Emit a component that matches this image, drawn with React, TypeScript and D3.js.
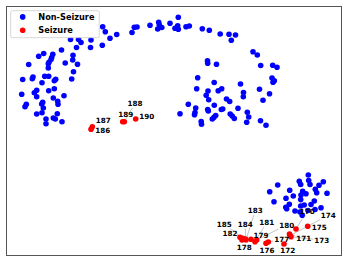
import React from "react";
import * as d3 from "d3";

// Embedding coordinates (arbitrary units)
const nonSeizure: [number, number][] = [
  [102.7,26.7],[105.3,31.7],[116.7,34.5],[110,38.3],[70.5,39.5],[78.5,39.5],[81,42.5],[91,40],
  [90.5,47.5],[102.3,45.2],[76.5,47.5],[61.5,50],[43.7,53.5],[52.8,54.2],[38.7,56.2],[73,55.2],
  [51.7,57.5],[51,59.5],[49,62.3],[48.3,63.7],[65.2,63],[72.7,60],[77.5,64.2],[28.7,64.5],
  [48.3,68],[73.5,71.7],[22.7,79.5],[32.3,78.7],[33,77],[44.7,76.3],[48.7,76.3],[54.3,80.7],
  [55.7,79.3],[71.7,79],[42,82.7],[36.7,90.3],[34.3,92.7],[48.7,90.7],[54.3,88.7],[21.7,94.3],
  [64,95.7],[36.7,96.7],[53.3,98],[57.7,101.3],[25,106.7],[26.3,104.3],[41.7,104],[42.7,102.3],
  [58,104.3],[43.3,108],[42,112.7],[36.7,114],[57.3,113.7],[46,119],[46,123.7],[53.3,118],
  [55.3,119],[62,121.7],
  [132,32.5],[134.3,27.3],[137,27],[150,25.2],[158.7,22.3],[159.3,25],[157.7,29],[161.8,27.5],
  [170,23.3],[177.7,25.7],[175,28.3],[178.3,29.3],[178.3,17.3],[186,26.7],[189.3,26],[202.3,28.7],
  [209.3,30.3],[220.2,34],[229,34.3],[235.5,35],[231.3,40.3],
  [253,51.7],[257.3,55],[207.5,60.8],[207.7,63.3],[216.5,64.3],[260.7,65.5],[272.7,65.2],[277,67.3],
  [272,78],[274.3,80.8],[273,82.3],[197.7,77.8],[214.2,82.5],[240.5,84],[196.7,88.8],[208,91],
  [218.2,90.8],[221.7,88.8],[243.5,92.5],[243.3,96.7],[259.5,89.2],[269.5,93.8],[206.2,95.3],
  [208.7,99.7],[226.5,99],[229.7,101.5],[263,100.2],[188.3,104.3],[214.3,105.2],[195.7,108],
  [195,112.5],[194.5,114.8],[207.7,109.5],[208.3,111],[221.3,109.5],[222.7,109],[238,108.3],
  [180,113.8],[247.3,112.2],[230.2,114],[232.2,116],[234.3,118.5],[248.7,117],[215.7,115.5],
  [214,117.3],[212.3,119],[201.2,121.5],[201.5,124.2],[246.7,122.3],[260.5,120.7],[266,125.2],
  [308.3,175],[277.7,185],[269.7,191.8],[299.3,181.3],[300.7,184.5],[308.7,180.5],[310,184.5],
  [323.3,181.8],[319,185.3],[289.7,190.2],[302.7,191.2],[306,193.8],[301,195],[315.3,189.3],
  [316.7,192.7],[327,193.3],[293.3,196],[286,198.3],[300.7,199.6],[274,201.7],[314.3,201],
  [311,204.5],[289.3,204.2],[285.8,207.2],[286.7,208.8],[304.2,205],[300.7,206],[321,207.7],
  [295,211],[300,212],[302.2,215.3],[308,210.5],[315,209.5],
];

const seizureIds: number[] = [170,171,172,173,174,175,176,177,178,179,180,181,182,183,184,185,186,187,188,189,190];
const seizurePts: [number, number][] = [
  [296,229],[289.5,234],[284,244],[291,236.8],[290,235.5],[307.7,226.3],[266,243.3],[268.3,242],
  [242,240],[251,239.3],[256.7,240],[255,241.7],[240,237.3],[246,240],[245.5,239],[242.7,238.3],
  [91,129.3],[92.3,126.7],[124.3,121.7],[122.7,121.7],[135.7,119],
];
const labelPos: [number, number][] = [
  [307.3,211],[303.7,238.7],[287.7,250],[321.7,240],[328.3,215.3],[319.3,227.3],[267,250],[281.7,239.3],
  [244.3,247.3],[261,235.7],[286.7,225],[266.7,222.3],[230,233.7],[255.3,210.3],[245.3,224],[224.3,224],
  [102.7,130.7],[103.3,120.7],[135,103.3],[125.7,114.3],[146.7,116],
];

const legendItems: string[] = ["Non-Seizure", "Seizure"];
const colors = ["#0000ff", "#ff0000"];

const W = 349, H = 262;
const frame = { left: 6.5, top: 6.5, right: 341.5, bottom: 255.5 };

export default function App() {
  const x = d3.scaleLinear().domain([6.5, 341.5]).range([frame.left, frame.right]);
  const y = d3.scaleLinear().domain([6.5, 255.5]).range([frame.top, frame.bottom]);
  const font = "'DejaVu Sans', sans-serif";
  const r = 2.8;

  const lines = seizurePts.map((p, i) => {
    const px = x(p[0]), py = y(p[1]);
    const lx = x(labelPos[i][0]), ly = y(labelPos[i][1]);
    const dx = lx - px, dy = ly - py;
    const hw = 8.5, hh = 4.5;
    // find t where segment from label center toward point exits label box
    const tx = dx === 0 ? Infinity : hw / Math.abs(dx);
    const ty = dy === 0 ? Infinity : hh / Math.abs(dy);
    const t = Math.min(tx, ty);
    if (t >= 1) return null;
    const ex = lx - dx * t, ey = ly - dy * t;
    return <line key={i} x1={px} y1={py} x2={ex} y2={ey} stroke="#9a9a9a" strokeWidth={0.6} />;
  });

  return (
    <svg width={W} height={H} style={{ position: "absolute", left: 0, top: 0, background: "#fff" }}>
      <rect x={0} y={0} width={W} height={H} fill="#fff" />
      <rect x={frame.left} y={frame.top} width={frame.right - frame.left} height={frame.bottom - frame.top}
        fill="none" stroke="#555" strokeWidth={1} />
      {lines}
      {nonSeizure.map((p, i) => (
        <circle key={"b" + i} cx={x(p[0])} cy={y(p[1])} r={r} fill={colors[0]} />
      ))}
      {seizurePts.map((p, i) => (
        <circle key={"r" + i} cx={x(p[0])} cy={y(p[1])} r={r} fill={colors[1]} />
      ))}
      {seizureIds.map((id, i) => (
        <text key={"t" + i} x={x(labelPos[i][0])} y={y(labelPos[i][1])} fontFamily={font} fontWeight="bold"
          fontSize={7.2} textAnchor="middle" dominantBaseline="central" fill="#000">{id}</text>
      ))}
      <g>
        <rect x={10.7} y={10.7} width={88.6} height={27} rx={2} fill="#fff" fillOpacity={0.85}
          stroke="#cccccc" strokeWidth={0.8} />
        {legendItems.map((name, i) => (
          <g key={name}>
            <circle cx={22.7} cy={16.9 + i * 13.3} r={2.8} fill={colors[i]} />
            <text x={38.3} y={16.9 + i * 13.3} fontFamily={font} fontWeight="bold" fontSize={8.2}
              dominantBaseline="central" fill="#000">{name}</text>
          </g>
        ))}
      </g>
    </svg>
  );
}
